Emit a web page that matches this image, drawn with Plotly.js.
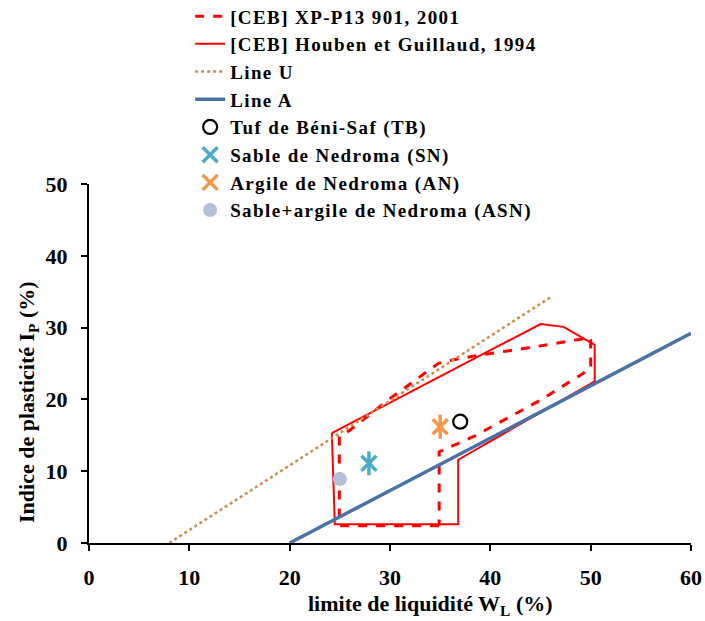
<!DOCTYPE html>
<html><head><meta charset="utf-8">
<script src="https://cdn.plot.ly/plotly-3.0.1.min.js"></script>
<style>html,body{margin:0;padding:0;background:#fff}#plot{width:705px;height:621px}
.legendtext{letter-spacing:1.4px}</style>
</head><body><div id="plot"></div>
<script>
// [CEB] XP-P13 901, 2001 (dashed zone)
const xpWL = [34.9, 24.95, 24.95, 26.0, 29.7, 34.8, 35.5, 39.0, 43.0, 49.95, 50.0, 50.0, 49.0, 45.0, 38.3, 34.9, 34.9];
const xpIP = [2.4, 2.4, 14.8, 15.7, 19.8, 25.0, 25.3, 26.2, 27.0, 28.6, 28.3, 24.3, 23.4, 19.9, 14.8, 12.7, 2.4];
// [CEB] Houben et Guillaud, 1994 (solid zone)
const hgWL = [24.2, 45.0, 47.3, 50.4, 50.4, 36.8, 36.8, 24.5, 24.2];
const hgIP = [15.3, 30.5, 30.1, 27.6, 22.5, 11.6, 2.6, 2.6, 15.3];
// Line U and Line A
const uWL = [8, 46.2];
const uIP = [0, 34.4];
const aWL = [20, 60];
const aIP = [0, 29.2];
// samples
const tbWL = [37.0], tbIP = [16.9];
const snWL = [27.9], snIP = [11.1];
const anWL = [35.0], anIP = [16.2];
const asnWL = [25.0], asnIP = [8.9];
// axis titles
const xTitle = '<b>limite de liquidité W<sub>L</sub> (%)</b>';
const yTitle = '<b>Indice de plasticité I<sub>P</sub> (%)</b>';

const font = {family: 'Liberation Serif, Times New Roman, serif', color: '#000'};
const teal = '#4bacc6', orange = '#f79646';
const traces = [
  {x: xpWL, y: xpIP, mode: 'lines', name: '<b>[CEB] XP-P13 901, 2001</b>',
   line: {color: '#ff0000', width: 3, dash: 'dash'}},
  {x: hgWL, y: hgIP, mode: 'lines', name: '<b>[CEB] Houben et Guillaud, 1994</b>',
   line: {color: '#ff0000', width: 2}},
  {x: uWL, y: uIP, mode: 'lines', name: '<b>Line U</b>',
   line: {color: '#d08c4f', width: 2.5, dash: 'dot'}},
  {x: aWL, y: aIP, mode: 'lines', name: '<b>Line A</b>',
   line: {color: '#4a72a6', width: 3.5}},
  {x: tbWL, y: tbIP, mode: 'markers', name: '<b>Tuf de Béni-Saf (TB)</b>',
   marker: {symbol: 'circle-open', size: 14, color: '#000', line: {width: 2.2, color: '#000'}}},
  {x: snWL, y: snIP, mode: 'markers', name: '<b>Sable de Nedroma (SN)</b>',
   marker: {symbol: 'x-thin-open', size: 15, color: teal, line: {width: 3.5, color: teal}}},
  {x: snWL, y: snIP, mode: 'markers', showlegend: false, hoverinfo: 'skip',
   marker: {symbol: 'line-ns-open', size: 17, color: teal, line: {width: 3.5, color: teal}}},
  {x: anWL, y: anIP, mode: 'markers', name: '<b>Argile de Nedroma (AN)</b>',
   marker: {symbol: 'x-thin-open', size: 15, color: orange, line: {width: 3.5, color: orange}}},
  {x: anWL, y: anIP, mode: 'markers', showlegend: false, hoverinfo: 'skip',
   marker: {symbol: 'line-ns-open', size: 17, color: orange, line: {width: 3.5, color: orange}}},
  {x: asnWL, y: asnIP, mode: 'markers', name: '<b>Sable+argile de Nedroma (ASN)</b>',
   marker: {symbol: 'circle', size: 14, color: '#b3bfdb'}}
];

const layout = {
  width: 705, height: 621,
  margin: {l: 89, r: 14, t: 184, b: 78, autoexpand: false},
  paper_bgcolor: '#fff', plot_bgcolor: '#fff',
  font: Object.assign({size: 16}, font),
  showlegend: true,
  legend: {x: 0.168, y: 1.52, xanchor: 'left', yanchor: 'top', traceorder: 'normal',
           bgcolor: 'rgba(0,0,0,0)', font: Object.assign({size: 19}, font)},
  xaxis: {range: [0, 60], dtick: 10, showgrid: false, zeroline: false,
          showline: true, linecolor: '#000', linewidth: 2, ticks: 'outside', ticklen: 6, tickwidth: 2, tickcolor: '#000',
          ticklabelstandoff: 8,
          tickfont: Object.assign({size: 22}, font), tickprefix: '<b>', ticksuffix: '</b>'},
  yaxis: {range: [0, 50], dtick: 10, showgrid: false, zeroline: false,
          showline: true, linecolor: '#000', linewidth: 2, ticks: 'outside', ticklen: 6, tickwidth: 2, tickcolor: '#000',
          ticklabelstandoff: 9,
          tickfont: Object.assign({size: 22}, font), tickprefix: '<b>', ticksuffix: '</b>'},
  annotations: [
    {text: xTitle, xref: 'paper', yref: 'paper', x: (431 - 89) / 602, y: (543 - 605) / 359,
     xanchor: 'center', yanchor: 'middle', showarrow: false, font: Object.assign({size: 22}, font)},
    {text: yTitle, xref: 'paper', yref: 'paper', x: (28 - 89) / 602, y: (543 - 402) / 359, textangle: -90,
     xanchor: 'center', yanchor: 'middle', showarrow: false, font: Object.assign({size: 22}, font)}
  ]
};
Plotly.newPlot('plot', traces, layout, {displayModeBar: false, staticPlot: true});
</script></body></html>
